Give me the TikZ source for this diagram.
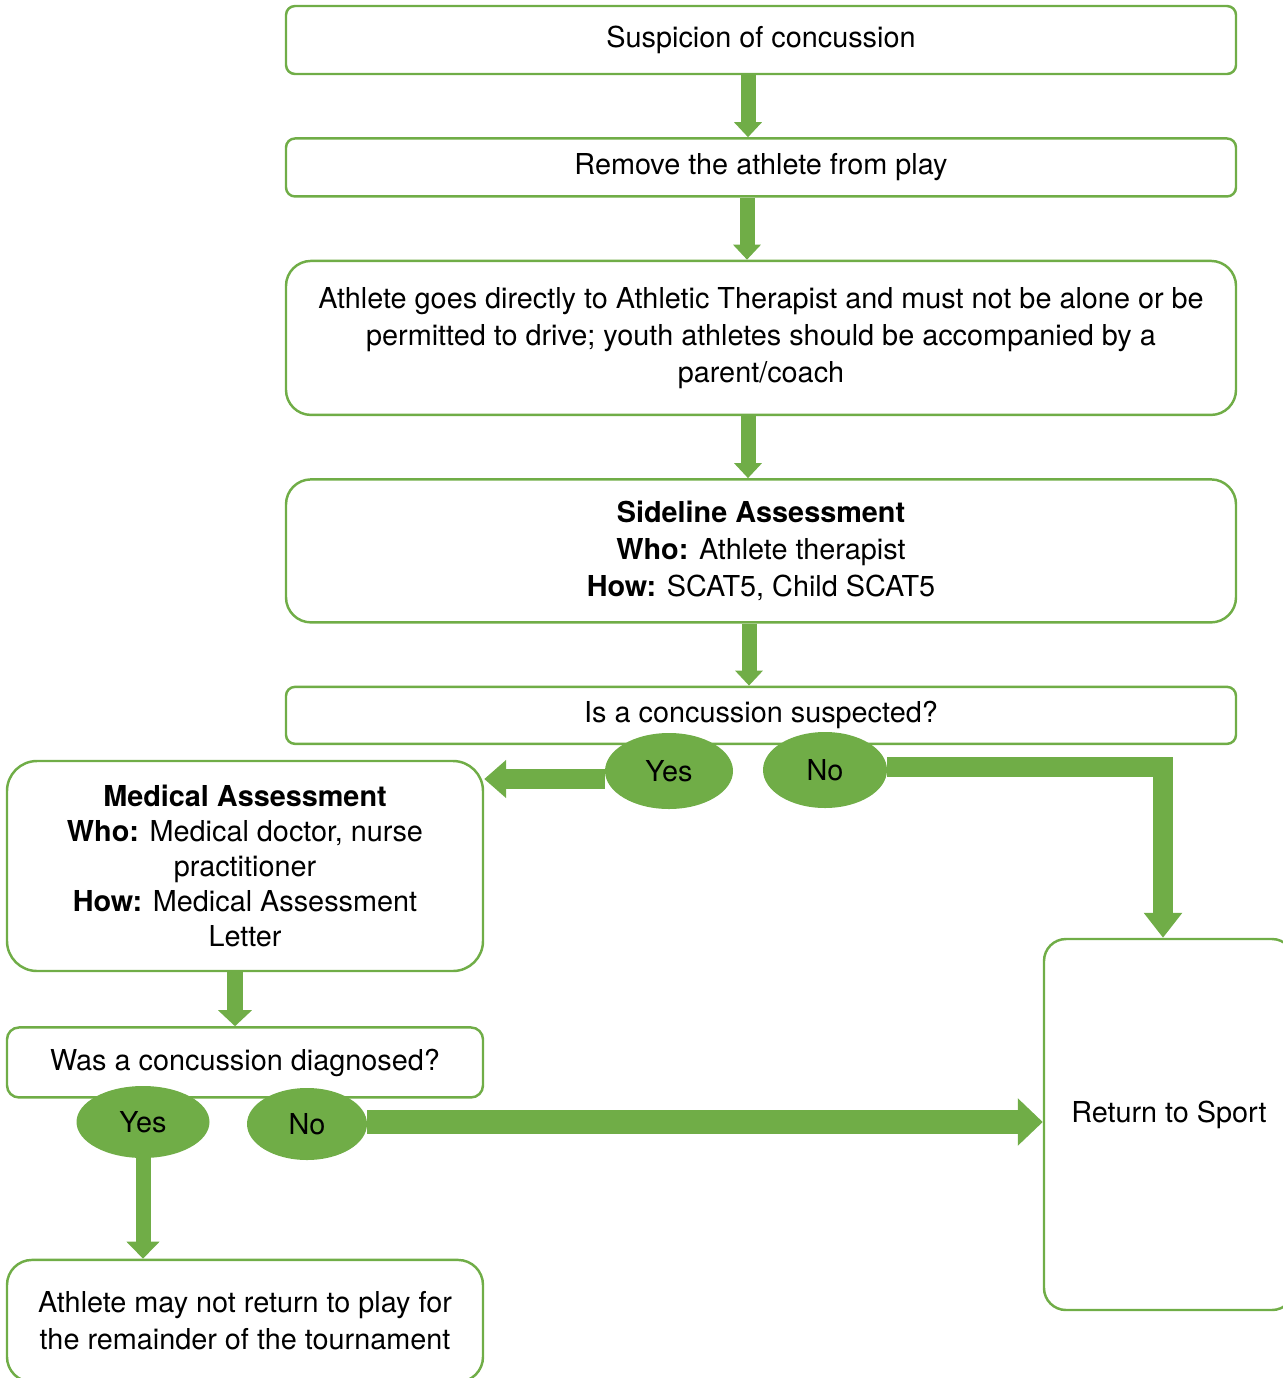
\documentclass[tikz,border=0pt]{standalone}
\usepackage{fontspec}
\setmainfont{TeX Gyre Heros}
\usepackage{xcolor}
\usepackage{tikz}
\usetikzlibrary{arrows.meta, shapes.geometric, positioning}

\definecolor{grn}{HTML}{70AD47}

\begin{document}
\begin{tikzpicture}[
  node distance=1.24cm,
  every node/.style={font=\fontsize{16.4}{21}\selectfont},
  box/.style={draw=grn, line width=1.4pt, rectangle, rounded corners=0.18cm,
              minimum width=19cm, align=center},
  bigbox/.style={box, rounded corners=0.5cm},
  oval/.style={ellipse, fill=grn, inner sep=0pt},
  arr/.style={color=grn, line width=0.3cm, -{Triangle[width=0.54cm,length=0.3cm]}},
  wide/.style={color=grn, line width=0.41cm, -{Triangle[width=0.74cm,length=0.44cm]}},
  fat/.style={color=grn, line width=0.48cm, -{Triangle[width=0.92cm,length=0.5cm]}}
]
  \useasboundingbox (0,0) rectangle (25.66,-27.56);

  % main column
  \node[box, minimum height=1.36cm] (sus) at (15.22,-0.8) {Suspicion of concussion};
  \node[box, minimum height=1.16cm, below=of sus] (rem) {Remove the athlete from play};
  \node[bigbox, minimum height=3.08cm, below=of rem] (ath)
    {Athlete goes directly to Athletic Therapist and must not be alone or be\\
     permitted to drive; youth athletes should be accompanied by a\\ parent/coach};
  \node[bigbox, minimum height=2.86cm, below=of ath] (side)
    {\textbf{Sideline Assessment}\\ \textbf{Who:} Athlete therapist\\
     \textbf{How:} SCAT5, Child SCAT5};
  \node[box, minimum height=1.14cm, below=of side] (isq) {Is a concussion suspected?};

  % left column
  \node[bigbox, rounded corners=0.6cm, minimum width=9.52cm, minimum height=4.2cm,
        font=\fontsize{16.4}{20}\selectfont] (med) at (4.9,-17.32)
    {\textbf{Medical Assessment}\\ \textbf{Who:} Medical doctor, nurse\\ practitioner\\
     \textbf{How:} Medical Assessment\\ Letter};
  \node[box, rounded corners=0.24cm, minimum width=9.52cm, minimum height=1.4cm, below=1.08cm of med] (wasq)
    {Was a concussion diagnosed?};
  \node[bigbox, minimum width=9.52cm, minimum height=2.44cm, below=3.2cm of wasq] (nop)
    {Athlete may not return to play for\\ the remainder of the tournament};

  % right side
  \node[bigbox, rounded corners=0.44cm, minimum width=5cm, minimum height=7.42cm] (ret) at (23.38,-22.49)
    {\raisebox{0.5cm}{Return to Sport}};

  % answers
  \node[oval, minimum width=2.56cm, minimum height=1.52cm] (yesA) at (13.38,-15.42) {Yes};
  \node[oval, minimum width=2.48cm, minimum height=1.52cm] (noA)  at (16.5,-15.4)  {No};
  \node[oval, minimum width=2.66cm, minimum height=1.44cm] (yesB) at (2.86,-22.44) {Yes};
  \node[oval, minimum width=2.4cm,  minimum height=1.44cm] (noB)  at (6.14,-22.48) {No};

  \coordinate (yesAout) at ([yshift=-0.16cm]yesA.west);
  \coordinate (noAout)  at ([yshift=0.06cm]noA.east);
  \coordinate (retTop)  at ([xshift=-0.12cm]ret.north);

  \draw[arr] ([xshift=-0.26cm]sus.south)  -- ([xshift=-0.26cm]rem.north);
  \draw[arr] ([xshift=-0.28cm]rem.south)  -- ([xshift=-0.28cm]ath.north);
  \draw[arr] ([xshift=-0.26cm]ath.south)  -- ([xshift=-0.26cm]side.north);
  \draw[arr] ([xshift=-0.24cm]side.south) -- ([xshift=-0.24cm]isq.north);
  \draw[wide] (yesAout) -- (yesAout -| med.east);
  \draw[wide, -{Triangle[width=0.74cm,length=0.5cm]}] (noAout) -| (retTop);
  \draw[arr, line width=0.32cm, -{Triangle[width=0.66cm,length=0.32cm]}]
    ([xshift=-0.2cm]med.south) -- ([xshift=-0.2cm]wasq.north);
  \draw[arr, -{Triangle[width=0.64cm,length=0.34cm]}] (yesB.south) -- (yesB.south |- nop.north);
  \draw[fat] ([yshift=0.04cm]noB.east) -- ([yshift=0.04cm]noB.east -| ret.west);
\end{tikzpicture}
\end{document}
